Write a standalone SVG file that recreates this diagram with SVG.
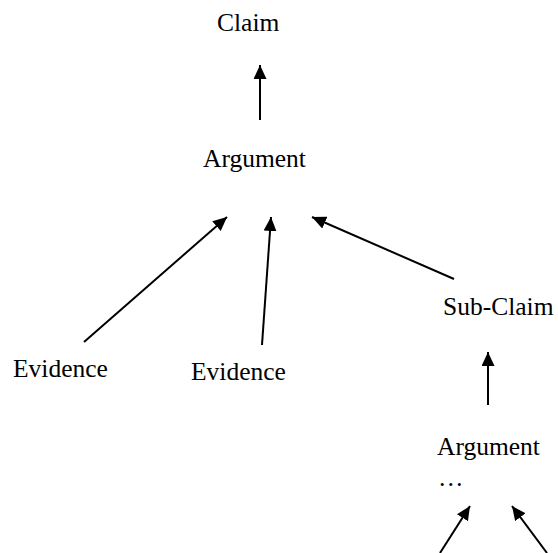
<svg xmlns="http://www.w3.org/2000/svg" width="558" height="553" viewBox="0 0 558 553">
<defs>
<style>
text{font-family:"Liberation Serif","Times New Roman",serif;font-size:25.5px;fill:#000}
.c line{stroke:#000;stroke-width:2;marker-end:url(#ah)}
</style>
<marker id="ah" markerUnits="userSpaceOnUse" markerWidth="16" markerHeight="14" refX="14" refY="6.5" orient="auto">
<path d="M0,0 L14,6.5 L0,13 z" fill="#000"/>
</marker>
</defs>
<rect width="558" height="553" fill="#fff"/>
<g id="claim"><text x="217" y="31">Claim</text></g>
<g id="argument"><text x="203" y="167">Argument</text></g>
<g id="evidence1"><text x="13" y="377">Evidence</text></g>
<g id="evidence2"><text x="191" y="380">Evidence</text></g>
<g id="subclaim"><text x="443" y="315">Sub-Claim</text></g>
<g id="argument2"><text x="437" y="455">Argument</text><text x="438" y="486">…</text></g>
<g class="c" id="connectors">
<line x1="260" y1="120" x2="260" y2="65"/>
<line x1="84" y1="342" x2="227" y2="217"/>
<line x1="262" y1="345" x2="271" y2="217"/>
<line x1="454" y1="279" x2="312" y2="217"/>
<line x1="488" y1="405" x2="488" y2="352"/>
<line x1="440" y1="553" x2="470" y2="506"/>
<line x1="547" y1="553" x2="512" y2="506"/>
</g>
</svg>
